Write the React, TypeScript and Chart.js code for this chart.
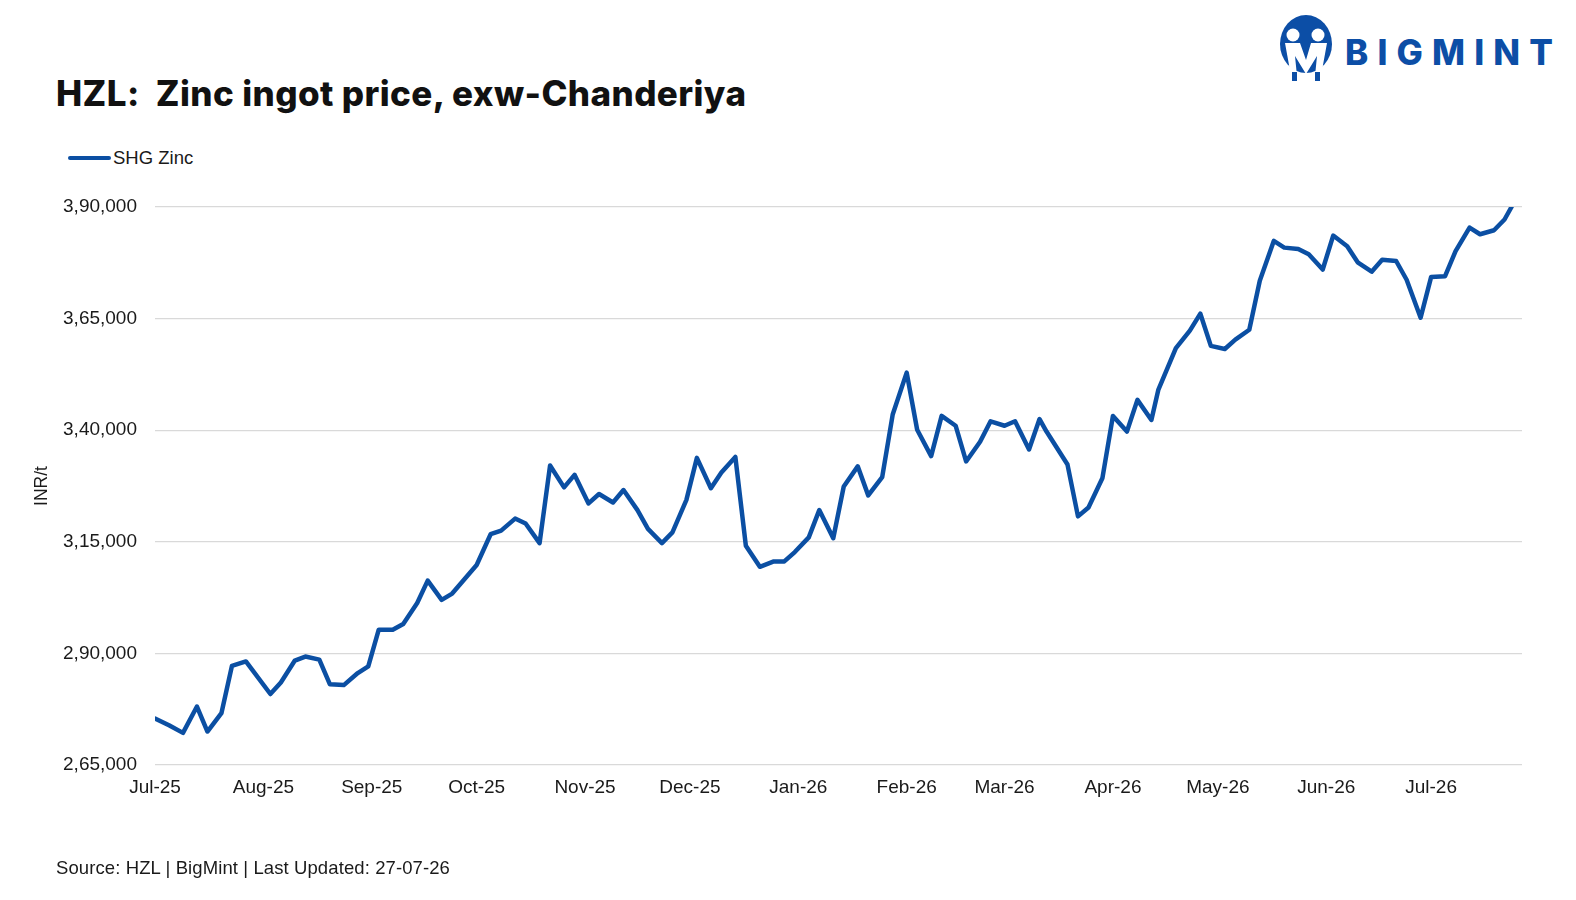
import { useEffect, useRef } from 'react';
import Chart from 'chart.js/auto';

// price dates (yyyy-mm-dd) and SHG zinc price in INR/t
const priceDates = [
    '2025-07-01', '2025-07-05', '2025-07-09', '2025-07-13', '2025-07-16', '2025-07-20', '2025-07-23', '2025-07-27',
    '2025-08-03', '2025-08-06', '2025-08-10', '2025-08-13', '2025-08-17', '2025-08-20', '2025-08-24', '2025-08-28',
    '2025-08-31', '2025-09-03', '2025-09-07', '2025-09-10', '2025-09-14', '2025-09-17', '2025-09-21', '2025-09-24',
    '2025-10-01', '2025-10-05', '2025-10-08', '2025-10-12', '2025-10-15', '2025-10-19', '2025-10-22', '2025-10-26',
    '2025-10-29', '2025-11-02', '2025-11-05', '2025-11-09', '2025-11-12', '2025-11-16', '2025-11-19', '2025-11-23',
    '2025-11-26', '2025-11-30', '2025-12-03', '2025-12-07', '2025-12-10', '2025-12-14', '2025-12-17', '2025-12-21',
    '2025-12-25', '2025-12-28', '2025-12-31', '2026-01-04', '2026-01-07', '2026-01-11', '2026-01-14', '2026-01-18',
    '2026-01-21', '2026-01-25', '2026-01-28', '2026-02-01', '2026-02-04', '2026-02-08', '2026-02-11', '2026-02-15',
    '2026-02-18', '2026-02-22', '2026-02-25', '2026-03-01', '2026-03-04', '2026-03-08', '2026-03-11', '2026-03-13',
    '2026-03-19', '2026-03-22', '2026-03-25', '2026-03-29', '2026-04-01', '2026-04-05', '2026-04-08', '2026-04-12',
    '2026-04-14', '2026-04-19', '2026-04-23', '2026-04-26', '2026-04-29', '2026-05-03', '2026-05-06', '2026-05-10',
    '2026-05-13', '2026-05-17', '2026-05-20', '2026-05-24', '2026-05-27', '2026-05-31', '2026-06-03', '2026-06-07',
    '2026-06-10', '2026-06-14', '2026-06-17', '2026-06-21', '2026-06-24', '2026-06-28', '2026-07-01', '2026-07-05',
    '2026-07-08', '2026-07-12', '2026-07-15', '2026-07-19', '2026-07-22', '2026-07-24',
];

const shgZinc = [
    275400, 273900, 272200, 278100, 272500, 276600, 287200, 288200,
    280900, 283500, 288400, 289300, 288600, 283100, 282900, 285600,
    287100, 295300, 295300, 296600, 301300, 306300, 302000, 303400,
    309800, 316700, 317500, 320200, 319100, 314700, 332100, 327200,
    330000, 323600, 325700, 323800, 326600, 322100, 317900, 314700,
    317100, 324400, 333800, 327000, 330500, 334000, 314100, 309400,
    310600, 310600, 312700, 316000, 322100, 315800, 327400, 331900,
    325400, 329500, 343500, 352900, 340100, 334200, 343200, 341000,
    333000, 337400, 342000, 341000, 342000, 335700, 342500, 339700,
    332300, 320700, 322700, 329300, 343200, 339700, 346800, 342300,
    349100, 358400, 362300, 366100, 358900, 358200, 360300, 362500,
    373500, 382400, 380900, 380600, 379400, 376000, 383600, 381200,
    377600, 375500, 378200, 377900, 373700, 365200, 374300, 374500,
    380100, 385400, 383900, 384800, 387200, 390000,
];

const monthStarts = [
    '2025-07-01', '2025-08-01', '2025-09-01', '2025-10-01', '2025-11-01', '2025-12-01', '2026-01-01',
    '2026-02-01', '2026-03-01', '2026-04-01', '2026-05-01', '2026-06-01', '2026-07-01',
];
const monthLabels = [
    'Jul-25', 'Aug-25', 'Sep-25', 'Oct-25', 'Nov-25', 'Dec-25', 'Jan-26',
    'Feb-26', 'Mar-26', 'Apr-26', 'May-26', 'Jun-26', 'Jul-26',
];

const yTicks = [265000, 290000, 315000, 340000, 365000, 390000];

const axisStart = '2025-07-01';
const axisEnd = '2026-07-27';

const BLUE = '#0b4fa3';
const TEXT = '#1a1a1a';
const FONT = '"Liberation Sans", Arial, sans-serif';
const HEAVY = 'Inter, "Liberation Sans", Arial, sans-serif';

// days since the first day of the axis
const dayOf = (d: string) => (Date.parse(d) - Date.parse(axisStart)) / 86400000;

// Indian digit grouping: 390000 -> 3,90,000
const inr = (v: number) => {
    const s = String(Math.round(v));
    const last3 = s.slice(-3);
    let rest = s.slice(0, -3);
    const parts: string[] = [];
    while (rest.length > 2) {
        parts.unshift(rest.slice(-2));
        rest = rest.slice(0, -2);
    }
    if (rest) parts.unshift(rest);
    return parts.length ? parts.join(',') + ',' + last3 : last3;
};

const PriceChart = () => {
    const canvasRef = useRef<HTMLCanvasElement>(null);

    useEffect(() => {
        const ctx = canvasRef.current?.getContext('2d');
        if (!ctx) return;

        const monthDays = monthStarts.map(dayOf);

        const chart = new Chart(ctx, {
            type: 'line',
            data: {
                datasets: [
                    {
                        label: 'SHG Zinc',
                        data: priceDates.map((d, i) => ({ x: dayOf(d), y: shgZinc[i] })),
                        borderColor: BLUE,
                        backgroundColor: BLUE,
                        borderWidth: 4.5,
                        pointRadius: 0,
                        tension: 0,
                        borderJoinStyle: 'round',
                        borderCapStyle: 'round',
                    },
                ],
            },
            options: {
                animation: false,
                responsive: true,
                maintainAspectRatio: false,
                layout: { padding: { top: 207, right: 54, bottom: 0, left: 0 } },
                plugins: {
                    legend: { display: false },
                    tooltip: { enabled: false },
                },
                scales: {
                    x: {
                        type: 'linear',
                        min: dayOf(axisStart),
                        max: dayOf(axisEnd),
                        grid: { display: false, drawTicks: false },
                        border: { display: false },
                        afterBuildTicks: (scale: any) => {
                            scale.ticks = monthDays.map((v) => ({ value: v }));
                        },
                        afterFit: (scale: any) => {
                            scale.height = 135;
                        },
                        ticks: {
                            autoSkip: false,
                            maxRotation: 0,
                            padding: 11,
                            color: TEXT,
                            font: { family: FONT, size: 19 },
                            callback: (v: any) => {
                                const i = monthDays.indexOf(Number(v));
                                return i >= 0 ? monthLabels[i] : '';
                            },
                        },
                    },
                    y: {
                        min: yTicks[0],
                        max: yTicks[yTicks.length - 1],
                        afterBuildTicks: (scale: any) => {
                            scale.ticks = yTicks.map((v) => ({ value: v }));
                        },
                        afterFit: (scale: any) => {
                            scale.width = 155;
                        },
                        grid: { color: '#d9d9d9', lineWidth: 1.3, drawTicks: false },
                        border: { display: false },
                        ticks: {
                            padding: 18,
                            color: TEXT,
                            font: { family: FONT, size: 19 },
                            callback: (v: any) => inr(Number(v)),
                        },
                        title: {
                            display: true,
                            text: 'INR/t',
                            color: TEXT,
                            font: { family: FONT, size: 17.5 },
                            padding: { top: 32, bottom: 0 },
                        },
                    },
                },
            },
        });

        return () => {
            chart.destroy();
        };
    }, []);

    return <canvas ref={canvasRef} />;
};

const Logo = () => (
    <svg width="300" height="80" viewBox="0 0 300 80" style={{ position: 'absolute', left: 1270, top: 10 }}>
        <ellipse cx="36" cy="34" rx="26" ry="29" fill="#0c4ea6" />
        <circle cx="23" cy="25" r="6.5" fill="#fff" />
        <circle cx="48" cy="25" r="6.5" fill="#fff" />
        <path d="M15 33 L30 33 L36 50 L41 33 L57 33 L51 66 L45 66 L47 46 L36 64 L25 46 L27 66 L21 66 Z" fill="#fff" />
        <rect x="22" y="62" width="5" height="9" fill="#0c4ea6" />
        <rect x="45" y="62" width="5" height="9" fill="#0c4ea6" />
        <text
            x="75"
            y="55"
            textLength="208"
            lengthAdjust="spacing"
            fill="#0c4ea6"
            style={{ fontFamily: HEAVY, fontWeight: 800, fontSize: 35 }}
        >
            BIGMINT
        </text>
    </svg>
);

export default function App() {
    return (
        <div
            style={{
                position: 'fixed',
                left: 0,
                top: 0,
                width: 1576,
                height: 900,
                background: '#fff',
                fontFamily: FONT,
                color: TEXT,
            }}
        >
            <div
                style={{
                    position: 'absolute',
                    left: 56,
                    top: 76,
                    fontFamily: HEAVY,
                    fontSize: 35,
                    lineHeight: '35px',
                    fontWeight: 800,
                    letterSpacing: 0.4,
                    whiteSpace: 'pre',
                    color: '#111',
                }}
            >
                {'HZL:  Zinc ingot price, exw-Chanderiya'}
            </div>
            <Logo />
            <div
                style={{
                    position: 'absolute',
                    left: 68,
                    top: 147,
                    height: 22,
                    display: 'flex',
                    alignItems: 'center',
                    fontSize: 18.5,
                }}
            >
                <span
                    style={{
                        display: 'inline-block',
                        width: 43,
                        height: 4.5,
                        borderRadius: 3,
                        background: BLUE,
                        marginRight: 2,
                    }}
                />
                <span>SHG Zinc</span>
            </div>
            <div style={{ position: 'absolute', left: 0, top: 0, width: 1576, height: 900 }}>
                <PriceChart />
            </div>
            <div
                style={{
                    position: 'absolute',
                    left: 56,
                    top: 859,
                    fontSize: 18.5,
                    lineHeight: '18.5px',
                    letterSpacing: 0.1,
                    whiteSpace: 'pre',
                }}
            >
                Source: HZL | BigMint | Last Updated: 27-07-26
            </div>
        </div>
    );
}
